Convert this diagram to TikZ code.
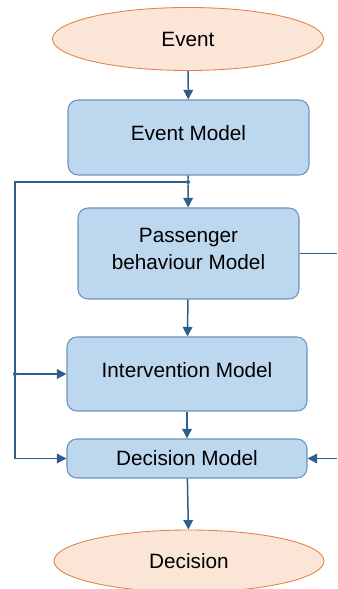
\documentclass[tikz,border=0pt]{standalone}
\usepackage{fontspec}
\setmainfont{Liberation Sans}
\usetikzlibrary{shapes.geometric,arrows.meta}
\definecolor{peachfill}{HTML}{FBE5D6}
\definecolor{peachline}{HTML}{E2844A}
\definecolor{boxfill}{HTML}{BDD7EE}
\definecolor{boxline}{HTML}{6A93BD}
\definecolor{flowline}{HTML}{2E5E8C}
\begin{document}
\begin{tikzpicture}
[enddecorate/.style={shape=ellipse,draw=peachline,fill=peachfill,line width=0.5pt,minimum width=5.42cm,minimum height=1.26cm,inner sep=0pt},%
  modeldecorate/.style={shape=rectangle,rounded corners=0.2cm,draw=boxline,fill=boxfill,line width=0.6pt,minimum width=4.8cm,inner sep=0pt,align=center},%
  linedecorate/.style={-{Triangle[width=0.19cm,length=0.19cm]},draw=flowline,line width=0.85pt},%
  dotdecorate/.style={shape=circle,fill=flowline,inner sep=0pt,minimum size=0.08cm},%
  font=\fontsize{11.8}{15.4}\selectfont]
\useasboundingbox (0,0) rectangle (6.74,11.78);
% nodes or vertices
\node (ev) at (3.76,11.0) [enddecorate] {Event};
\node (em) at (3.77,9.03) [modeldecorate,minimum width=4.82cm,minimum height=1.5cm,text depth=0.18cm] {Event Model};
\node (pb) at (3.77,6.71) [modeldecorate,minimum width=4.42cm,minimum height=1.82cm,text depth=0.2cm] {Passenger\\behaviour Model};
\node (iv) at (3.74,4.30) [modeldecorate,minimum height=1.48cm,text depth=0.16cm] {Intervention Model};
\node (dm) at (3.74,2.61) [modeldecorate,minimum height=0.78cm] {Decision Model};
\node (de) at (3.78,0.56) [enddecorate,minimum width=5.4cm,minimum height=1.24cm] {Decision};
% junctions and loose ends
\node (jt) at (3.76,8.14) [dotdecorate] {};
\coordinate (lt) at (0.3,8.14);
\coordinate (lb) at (lt |- dm.west);
\node (li) at (lt |- iv.west) [dotdecorate] {};
\coordinate (rt) at (6.74,6.71);
\coordinate (rb) at (rt |- dm.east);
% edges or lines
\path
(ev) edge[linedecorate] (em)
(jt) edge[linedecorate] (pb)
(pb) edge[linedecorate] (iv)
(iv) edge[linedecorate] (dm)
(dm) edge[linedecorate] (de)
(li) edge[linedecorate] (iv)
(rb) edge[linedecorate] (dm)
(em) edge[linedecorate,-] (jt)
(pb) edge[linedecorate,-] (rt);
\draw[linedecorate] (jt) -- (lt) -- (lb) -- (dm);
\end{tikzpicture}
\end{document}
